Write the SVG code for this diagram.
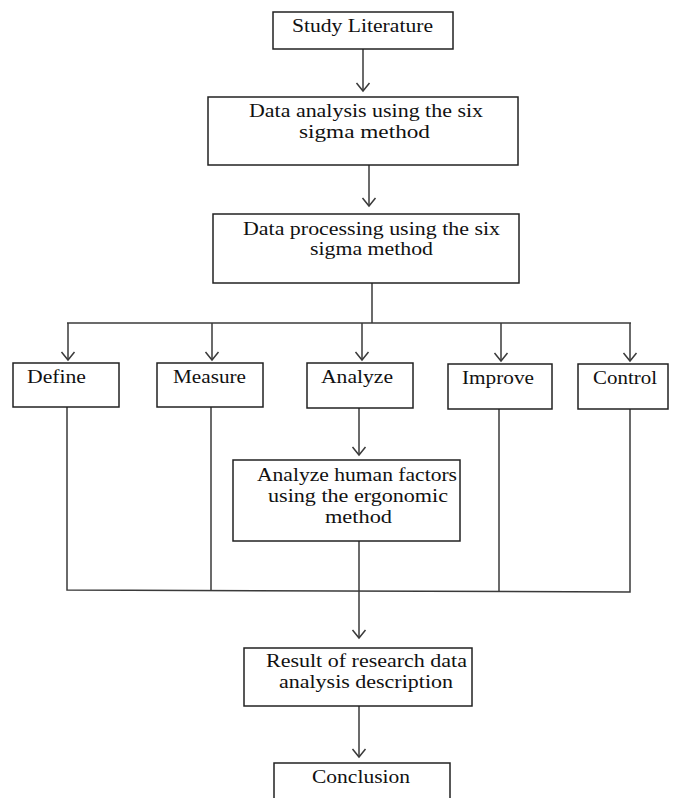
<svg xmlns="http://www.w3.org/2000/svg" width="673" height="798" viewBox="0 0 673 798">
<style>
.box{fill:#fff;stroke:#222;stroke-width:1.5}
.ln{fill:none;stroke:#3a3a3a;stroke-width:1.5}
.t{font-family:"Liberation Serif","Times New Roman",serif;font-size:18px;fill:#111;text-anchor:middle}
</style>
<defs>
<marker id="arr" markerUnits="userSpaceOnUse" markerWidth="12" markerHeight="16" refX="8" refY="0" orient="auto" overflow="visible">
<path d="M0,-6.5 L8,0 L0,6.5" fill="none" stroke="#3a3a3a" stroke-width="1.5"/>
</marker>
</defs>
<rect width="673" height="798" fill="#fff"/>
<g id="connectors">
<line class="ln" x1="363" y1="49" x2="363" y2="91" marker-end="url(#arr)"/>
<line class="ln" x1="369" y1="165" x2="369" y2="206" marker-end="url(#arr)"/>
<polyline class="ln" points="372,283 372,323"/>
<line class="ln" x1="67" y1="323" x2="631" y2="323"/>
<line class="ln" x1="68" y1="323" x2="68" y2="360" marker-end="url(#arr)"/>
<line class="ln" x1="212" y1="323" x2="212" y2="360" marker-end="url(#arr)"/>
<line class="ln" x1="362" y1="323" x2="362" y2="360" marker-end="url(#arr)"/>
<line class="ln" x1="501" y1="323" x2="501" y2="361" marker-end="url(#arr)"/>
<line class="ln" x1="630" y1="323" x2="630" y2="361" marker-end="url(#arr)"/>
<line class="ln" x1="359" y1="408" x2="359" y2="455" marker-end="url(#arr)"/>
<polyline class="ln" points="67,407 67,590 630,592 630,409"/>
<line class="ln" x1="211" y1="407" x2="211" y2="590.5"/>
<line class="ln" x1="499" y1="409" x2="499" y2="591.5"/>
<line class="ln" x1="359" y1="541" x2="359" y2="638" marker-end="url(#arr)"/>
<line class="ln" x1="359" y1="706" x2="359" y2="757" marker-end="url(#arr)"/>
</g>
<g id="study-literature">
<rect class="box" x="273" y="12" width="180" height="37"/>
<text class="t" x="362.5" y="32" textLength="141" lengthAdjust="spacingAndGlyphs">Study Literature</text>
</g>
<g id="data-analysis">
<rect class="box" x="208" y="97" width="310" height="68"/>
<text class="t" x="366" y="117" textLength="234" lengthAdjust="spacingAndGlyphs">Data analysis using the six</text>
<text class="t" x="364.5" y="138" textLength="131" lengthAdjust="spacingAndGlyphs">sigma method</text>
</g>
<g id="data-processing">
<rect class="box" x="213" y="214" width="306" height="69"/>
<text class="t" x="371.5" y="235" textLength="257" lengthAdjust="spacingAndGlyphs">Data processing using the six</text>
<text class="t" x="371.5" y="255" textLength="123" lengthAdjust="spacingAndGlyphs">sigma method</text>
</g>
<g id="define">
<rect class="box" x="13" y="363" width="106" height="44"/>
<text class="t" x="56.5" y="383" textLength="59" lengthAdjust="spacingAndGlyphs">Define</text>
</g>
<g id="measure">
<rect class="box" x="157" y="363" width="106" height="44"/>
<text class="t" x="209.5" y="383" textLength="73" lengthAdjust="spacingAndGlyphs">Measure</text>
</g>
<g id="analyze">
<rect class="box" x="307" y="363" width="106" height="45"/>
<text class="t" x="357" y="383" textLength="72" lengthAdjust="spacingAndGlyphs">Analyze</text>
</g>
<g id="improve">
<rect class="box" x="448" y="364" width="104" height="45"/>
<text class="t" x="498" y="384" textLength="72" lengthAdjust="spacingAndGlyphs">Improve</text>
</g>
<g id="control">
<rect class="box" x="578" y="364" width="90" height="45"/>
<text class="t" x="625" y="384" textLength="64" lengthAdjust="spacingAndGlyphs">Control</text>
</g>
<g id="ergonomic">
<rect class="box" x="233" y="460" width="227" height="81"/>
<text class="t" x="357" y="481" textLength="200" lengthAdjust="spacingAndGlyphs">Analyze human factors</text>
<text class="t" x="358" y="502" textLength="180" lengthAdjust="spacingAndGlyphs">using the ergonomic</text>
<text class="t" x="358.5" y="523" textLength="67" lengthAdjust="spacingAndGlyphs">method</text>
</g>
<g id="result">
<rect class="box" x="244" y="648" width="228" height="58"/>
<text class="t" x="366.5" y="667" textLength="201" lengthAdjust="spacingAndGlyphs">Result of research data</text>
<text class="t" x="366" y="688" textLength="174" lengthAdjust="spacingAndGlyphs">analysis description</text>
</g>
<g id="conclusion">
<rect class="box" x="274" y="763" width="176" height="50"/>
<text class="t" x="361" y="783" textLength="98" lengthAdjust="spacingAndGlyphs">Conclusion</text>
</g>
</svg>
